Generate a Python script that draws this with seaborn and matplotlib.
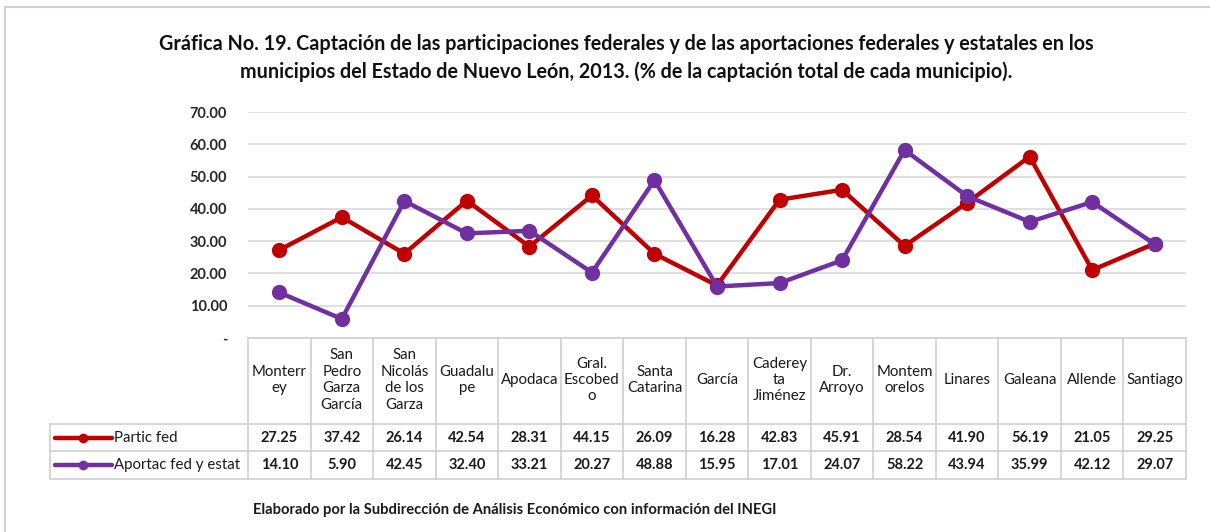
import numpy as np
import pandas as pd
import matplotlib
matplotlib.use("Agg")
import matplotlib.pyplot as plt
import seaborn as sns
from matplotlib.lines import Line2D

municipios = ["Monterr\ney", "San\nPedro\nGarza\nGarcía", "San\nNicolás\nde los\nGarza",
              "Guadalu\npe", "Apodaca", "Gral.\nEscobed\no", "Santa\nCatarina", "García",
              "Caderey\nta\nJiménez", "Dr.\nArroyo", "Montem\norelos", "Linares",
              "Galeana", "Allende", "Santiago"]
partic_fed = [27.25, 37.42, 26.14, 42.54, 28.31, 44.15, 26.09, 16.28, 42.83, 45.91,
              28.54, 41.90, 56.19, 21.05, 29.25]
aportac = [14.10, 5.90, 42.45, 32.40, 33.21, 20.27, 48.88, 15.95, 17.01, 24.07,
           58.22, 43.94, 35.99, 42.12, 29.07]
series_names = ["Partic fed", "Aportac fed y estat"]
colors = ["#C00000", "#7030A0"]
yticks = [0, 10, 20, 30, 40, 50, 60, 70]
ytick_labels = ["-", "10.00", "20.00", "30.00", "40.00", "50.00", "60.00", "70.00"]
title = ("Gráfica No. 19. Captación de las participaciones federales y de las aportaciones federales y estatales en los\n"
         "municipios del Estado de Nuevo León, 2013. (% de la captación total de cada municipio).")
footnote = "Elaborado por la Subdirección de Análisis Económico con información del INEGI"

sns.set_theme(style="white")
plt.rcParams['font.family'] = ['Lato', 'DejaVu Sans']

W, H = 1210, 532
fig = plt.figure(figsize=(W / 100, H / 100), dpi=100)
fig.patch.set_facecolor("white")

def fx(px):
    return px / W

def fy(py):
    return 1 - py / H

# frame lines
fig.add_artist(Line2D([fx(5), fx(1210)], [fy(7), fy(7)], color="#D0D0D0", lw=1.5))
fig.add_artist(Line2D([fx(5), fx(5)], [fy(7), fy(532)], color="#D0D0D0", lw=1.5))

L, R, T, B = 248, 1186, 112, 338
ax = fig.add_axes([fx(L), fy(B), fx(R - L), (B - T) / H])

n = len(municipios)
df = pd.DataFrame({
    "idx": list(range(n)) * 2,
    "valor": partic_fed + aportac,
    "serie": [series_names[0]] * n + [series_names[1]] * n,
})
sns.lineplot(data=df, x="idx", y="valor", hue="serie", palette=colors,
             marker="o", markersize=11, markeredgewidth=0, linewidth=3.2,
             legend=False, ax=ax, sort=False)
ax.set_xlim(-0.5, n - 0.5)
ax.set_ylim(0, 70)
ax.set_yticks(yticks)
ax.set_yticklabels(ytick_labels, fontsize=10.5, fontweight="bold", color="#262626")
ax.tick_params(axis="y", length=0, pad=15)
ax.set_xticks([])
ax.set_xlabel("")
ax.set_ylabel("")
ax.grid(axis="y", color="#D9D9D9", lw=1.2)
ax.set_axisbelow(True)
for s in ["left", "right", "top"]:
    ax.spines[s].set_visible(False)
ax.spines["bottom"].set_color("#D0D0D0")
ax.spines["bottom"].set_linewidth(1.2)

# data table
TL, TB = 50, 479
upx = (R - L) / n
xleft = -0.5 - (L - TL) / upx
tax = fig.add_axes([fx(TL), fy(TB), fx(R - TL), (TB - B) / H])
tax.set_xlim(xleft, n - 0.5)
tax.set_ylim(TB - B, 0)
tax.axis("off")
gc = "#D0D0D0"
h1, h2, h3 = 86, 113, 141
for k in range(n + 1):
    tax.plot([k - 0.5, k - 0.5], [0, h3], color=gc, lw=1.2, clip_on=False)
tax.plot([xleft, xleft], [h1, h3], color=gc, lw=1.2, clip_on=False)
for yy in [h1, h2, h3]:
    tax.plot([xleft, n - 0.5], [yy, yy], color=gc, lw=1.2, clip_on=False)
for i, name in enumerate(municipios):
    tax.text(i, 42, name, ha="center", va="center", fontsize=10.8, color="#1a1a1a",
             linespacing=1.22)
for row, (vals, yc) in enumerate([(partic_fed, (h1 + h2) / 2), (aportac, (h2 + h3) / 2)]):
    for i, v in enumerate(vals):
        tax.text(i, yc, f"{v:.2f}", ha="center", va="center", fontsize=10.5,
                 fontweight="bold", color="#1a1a1a")
    x0 = xleft + 5 / upx
    x1 = xleft + 62 / upx
    tax.plot([x0, x1], [yc, yc], color=colors[row], lw=3.2, solid_capstyle="round",
             clip_on=False)
    tax.plot([(x0 + x1) / 2], [yc], marker="o", color=colors[row], markersize=7,
             markeredgewidth=0, clip_on=False)
    tax.text(x1 + 2 / upx, yc, series_names[row], ha="left", va="center",
             fontsize=10.8, color="#1a1a1a")

fig.text(fx(626), fy(58), title, ha="center", va="center", fontsize=14.2,
         fontweight="bold", color="#111111", linespacing=1.4)
fig.text(fx(253), fy(510), footnote, ha="left", va="center", fontsize=10.6,
         fontweight="bold", color="#1a1a1a")

fig.savefig("out.png", dpi=100)
